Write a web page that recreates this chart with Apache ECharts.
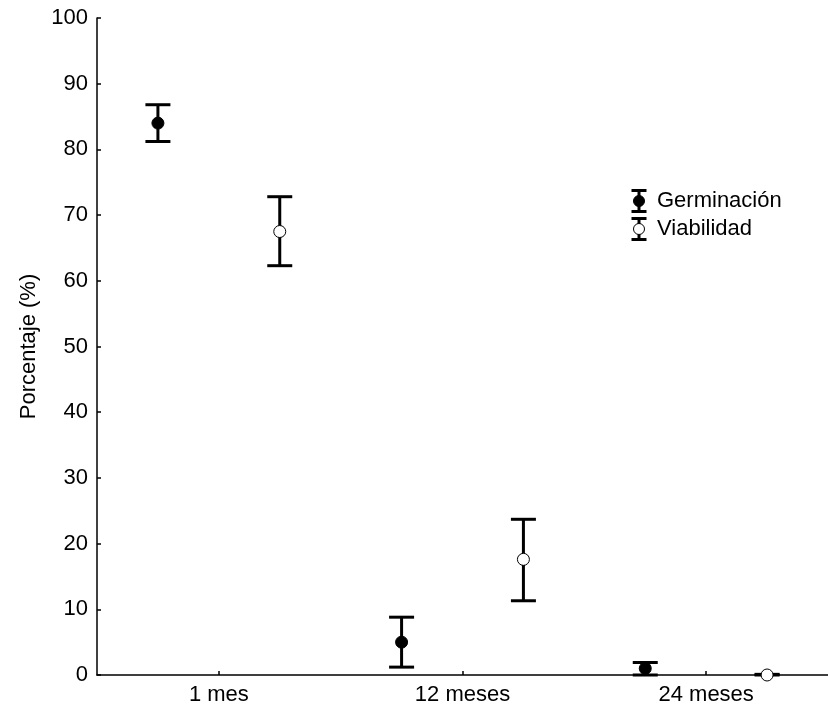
<!DOCTYPE html>
<html><head><meta charset="utf-8">
<script src="https://cdn.jsdelivr.net/npm/echarts@6/dist/echarts.min.js"></script>
<style>html,body{margin:0;padding:0;background:#fff}#c{width:828px;height:715px}</style>
</head><body><div id="c"></div>
<script>
const categories = ['1 mes', '12 meses', '24 meses'];
const germMean = [84, 5, 1];
const germLow = [81.2, 1.2, 0];
const germHigh = [86.8, 8.8, 1.9];
const viabMean = [67.5, 17.6, 0];
const viabLow = [62.3, 11.3, 0];
const viabHigh = [72.8, 23.7, 0.1];
const yTicks = [0, 10, 20, 30, 40, 50, 60, 70, 80, 90, 100];

const FONT = 'Liberation Sans, Arial, sans-serif';

function makeData(mean, low, high) {
  return categories.map((c, i) => [i, mean[i], low[i], high[i]]);
}
function renderer(offsetFrac, filled) {
  return function (params, api) {
    const i = api.value(0);
    const band = api.size([1, 0])[0];
    const pm = api.coord([i, api.value(1)]);
    const pl = api.coord([i, api.value(2)]);
    const ph = api.coord([i, api.value(3)]);
    const x = pm[0] + offsetFrac * band;
    const hw = 12.5;
    const ls = { stroke: '#000', lineWidth: 3 };
    return {
      type: 'group',
      children: [
        { type: 'line', shape: { x1: x, y1: pl[1], x2: x, y2: ph[1] }, style: ls },
        { type: 'line', shape: { x1: x - hw, y1: pl[1], x2: x + hw, y2: pl[1] }, style: ls },
        { type: 'line', shape: { x1: x - hw, y1: ph[1], x2: x + hw, y2: ph[1] }, style: ls },
        { type: 'circle', shape: { cx: x, cy: pm[1], r: 6 },
          style: { fill: filled ? '#000' : '#fff', stroke: '#000', lineWidth: 1 } }
      ]
    };
  };
}

function legendItem(y, label, filled) {
  const x = 639;
  const ls = { stroke: '#000', lineWidth: 3 };
  return {
    type: 'group', children: [
      { type: 'line', shape: { x1: x, y1: y - 10.5, x2: x, y2: y + 10.5 }, style: ls },
      { type: 'line', shape: { x1: x - 7.5, y1: y - 10.5, x2: x + 7.5, y2: y - 10.5 }, style: ls },
      { type: 'line', shape: { x1: x - 7.5, y1: y + 10.5, x2: x + 7.5, y2: y + 10.5 }, style: ls },
      { type: 'circle', shape: { cx: x, cy: y, r: 5.5 },
        style: { fill: filled ? '#000' : '#fff', stroke: '#000', lineWidth: 1 } },
      { type: 'text', x: 657, y: y, style: { text: label, font: '22px ' + FONT, fill: '#000', textVerticalAlign: 'middle' } }
    ]
  };
}

const chart = echarts.init(document.getElementById('c'), null, { renderer: 'canvas' });
chart.setOption({
  animation: false,
  backgroundColor: '#fff',
  grid: { left: 97, right: 0, top: 18, bottom: 40, containLabel: false },
  xAxis: {
    type: 'category', data: categories, boundaryGap: true,
    axisLine: { lineStyle: { color: '#000', width: 1.5 } },
    axisTick: { show: true, alignWithLabel: true, inside: true, length: 4, lineStyle: { color: '#000', width: 1.5 } },
    axisLabel: { color: '#000', fontSize: 22, fontFamily: FONT, margin: 9 },
    splitLine: { show: false }
  },
  yAxis: {
    type: 'value', min: 0, max: 100, interval: 10,
    name: 'Porcentaje (%)', nameLocation: 'middle', nameGap: 56,
    nameTextStyle: { color: '#000', fontSize: 22, fontFamily: FONT },
    axisLine: { show: true, lineStyle: { color: '#000', width: 1.5 } },
    axisTick: { show: true, inside: true, length: 4, lineStyle: { color: '#000', width: 1.5 } },
    axisLabel: { color: '#000', fontSize: 22, fontFamily: FONT, margin: 9,
      formatter: v => yTicks.includes(v) ? String(v) : '' },
    splitLine: { show: false }
  },
  series: [
    { type: 'custom', name: 'Germinación', data: makeData(germMean, germLow, germHigh),
      renderItem: renderer(-0.25, true), encode: { x: 0, y: [1, 2, 3] }, clip: false },
    { type: 'custom', name: 'Viabilidad', data: makeData(viabMean, viabLow, viabHigh),
      renderItem: renderer(0.25, false), encode: { x: 0, y: [1, 2, 3] }, clip: false }
  ],
  graphic: [legendItem(201, 'Germinación', true), legendItem(229, 'Viabilidad', false)]
});
</script></body></html>
